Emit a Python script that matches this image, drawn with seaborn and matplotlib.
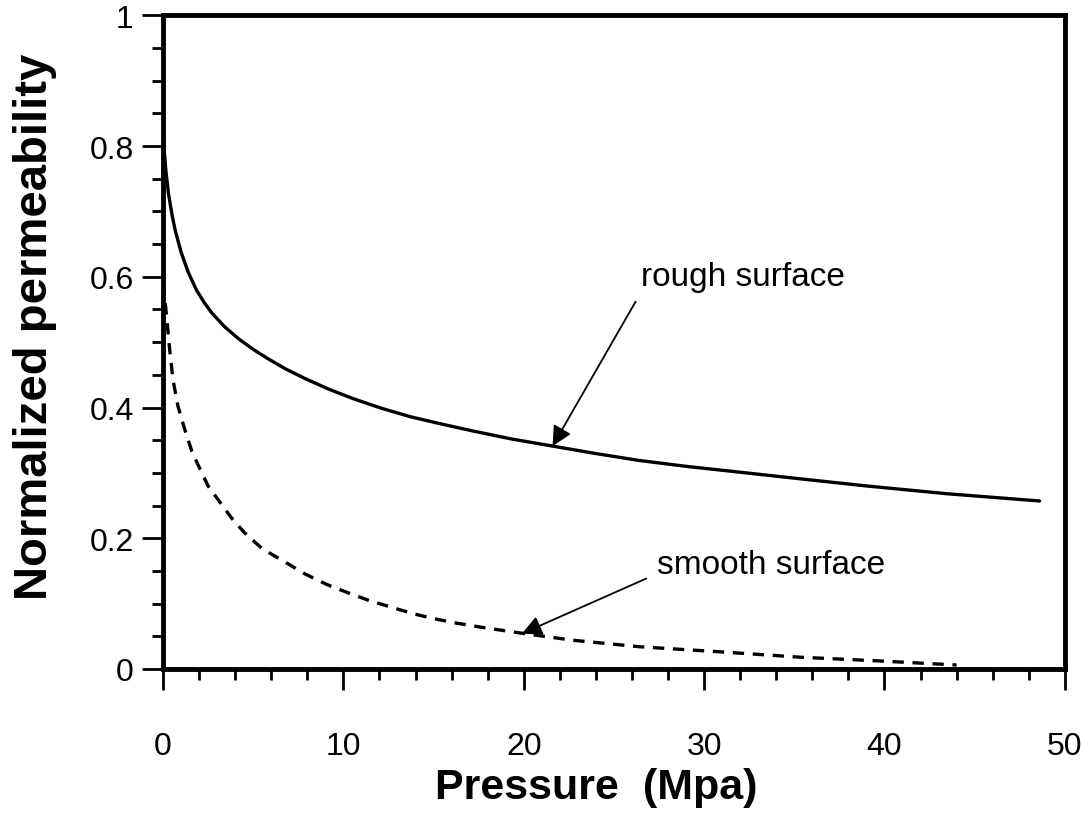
import numpy as np
import pandas as pd
import matplotlib
matplotlib.use("Agg")
import matplotlib.pyplot as plt
from matplotlib.ticker import MultipleLocator
import seaborn as sns

# Data
rough_x = [0.0, 0.05, 0.15, 0.3, 0.5, 0.67, 1.0, 1.4, 1.85, 2.3, 2.7, 3.4, 4.2, 5.0, 5.8, 6.8, 7.9, 9.2, 10.6, 12.1, 13.7, 15.4, 17.2, 19.3, 21.6, 23.9, 26.4, 29.0, 32.0, 35.3, 39.0, 43.5, 48.6]
rough_y = [0.83, 0.80, 0.765, 0.728, 0.695, 0.672, 0.638, 0.607, 0.58, 0.56, 0.545, 0.524, 0.505, 0.489, 0.475, 0.459, 0.444, 0.428, 0.413, 0.399, 0.386, 0.375, 0.364, 0.352, 0.341, 0.33, 0.319, 0.31, 0.301, 0.291, 0.280, 0.268, 0.257]

smooth_x = [0.0, 0.1, 0.2, 0.35, 0.55, 0.83, 1.2, 1.6, 2.05, 2.5, 3.16, 3.8, 4.5, 5.5, 6.8, 7.9, 9.1, 10.4, 11.5, 12.6, 13.8, 15.0, 16.3, 17.6, 19.8, 22.7, 26.4, 31.0, 35.3, 39.9, 44.0]
smooth_y = [0.59, 0.565, 0.54, 0.494, 0.443, 0.402, 0.367, 0.333, 0.306, 0.28, 0.255, 0.231, 0.209, 0.184, 0.163, 0.145, 0.129, 0.115, 0.104, 0.095, 0.085, 0.077, 0.07, 0.064, 0.055, 0.044, 0.034, 0.026, 0.018, 0.012, 0.006]

x_ticks = [0, 10, 20, 30, 40, 50]
y_ticks = [0, 0.2, 0.4, 0.6, 0.8, 1]
y_tick_labels = ["0", "0.2", "0.4", "0.6", "0.8", "1"]

sns.set_style("ticks")
plt.rcParams["font.family"] = ["Liberation Sans", "DejaVu Sans"]
plt.rcParams["text.color"] = "black"
plt.rcParams["axes.labelcolor"] = "black"

rough_df = pd.DataFrame({"Pressure": rough_x, "Permeability": rough_y})
smooth_df = pd.DataFrame({"Pressure": smooth_x, "Permeability": smooth_y})

fig = plt.figure(figsize=(10.91, 8.2), dpi=100)
ax = fig.add_axes([0.1494, 0.183, 0.8266, 0.797])

sns.lineplot(data=rough_df, x="Pressure", y="Permeability", ax=ax, color="black", lw=2.4, sort=False)
sns.lineplot(data=smooth_df, x="Pressure", y="Permeability", ax=ax, color="black", lw=2.4,
             sort=False, dashes=False, linestyle=(0, (3.4, 2.6)))

ax.set_xlim(0, 50)
ax.set_ylim(0, 1)
ax.set_xticks(x_ticks)
ax.set_xticklabels([str(t) for t in x_ticks])
ax.set_yticks(y_ticks)
ax.set_yticklabels(y_tick_labels)
ax.xaxis.set_minor_locator(MultipleLocator(2))
ax.yaxis.set_minor_locator(MultipleLocator(0.05))

for s in ax.spines.values():
    s.set_visible(True)
    s.set_linewidth(3.5)
    s.set_color("black")

ax.tick_params(axis="both", which="major", direction="out", length=15, width=2, labelsize=23,
               colors="black", labelcolor="black")
ax.tick_params(axis="both", which="minor", direction="out", length=8, width=2, colors="black")
ax.tick_params(axis="x", which="major", pad=30)
ax.tick_params(axis="y", which="major", pad=6)
ax.tick_params(top=False, right=False, which="both")

ax.set_xlabel("Pressure  (Mpa)", fontsize=31, fontweight="bold", color="black")
ax.set_ylabel("Normalized permeability", fontsize=34, fontweight="bold", color="black")
ax.xaxis.set_label_coords(0.48, -0.15)
ax.yaxis.set_label_coords(-0.118, 0.525)

ax.annotate("rough surface", xy=(21.6, 0.341), xytext=(26.5, 0.60),
            fontsize=24, ha="left", va="center", color="black",
            arrowprops=dict(arrowstyle="-|>", color="black", lw=1.3, mutation_scale=30,
                            shrinkA=5, shrinkB=0, relpos=(0.0, 0.0)))
ax.annotate("smooth surface", xy=(19.9, 0.054), xytext=(27.4, 0.16),
            fontsize=24, ha="left", va="center", color="black",
            arrowprops=dict(arrowstyle="-|>", color="black", lw=1.3, mutation_scale=30,
                            shrinkA=6, shrinkB=0, relpos=(0.0, 0.2)))

fig.savefig("out.png", dpi=100)
